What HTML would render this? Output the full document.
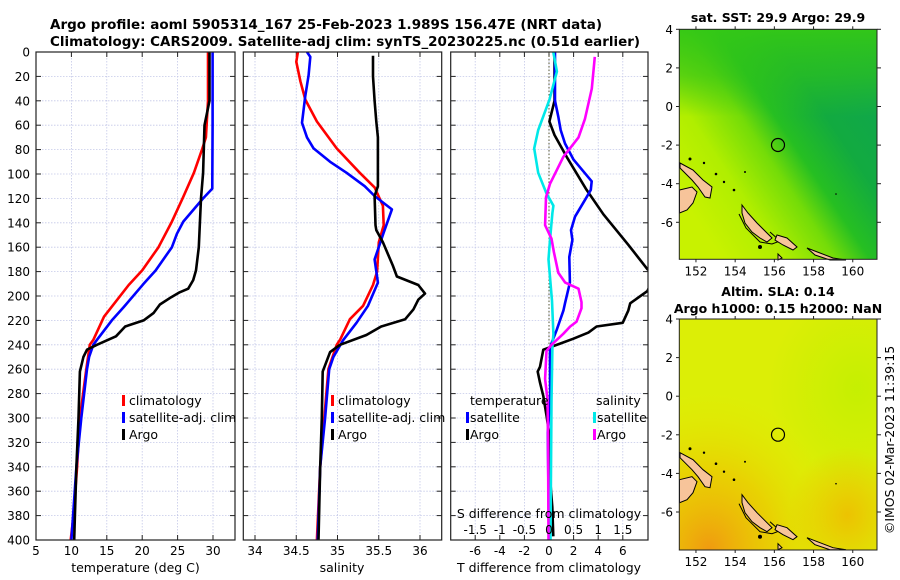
<!DOCTYPE html>
<html><head><meta charset="utf-8"><style>
html,body{margin:0;padding:0;background:#fff;}
svg{display:block;font-family:"DejaVu Sans","Liberation Sans",sans-serif;}
</style></head><body>
<svg id="fig" width="900" height="580" viewBox="0 0 900 580" xmlns="http://www.w3.org/2000/svg">
<defs>
<linearGradient id="sstGrad" x1="1" y1="0.15" x2="0.1" y2="0.85">
<stop offset="0" stop-color="#0fa650"/>
<stop offset="0.3" stop-color="#12aa40"/>
<stop offset="0.48" stop-color="#26bf22"/>
<stop offset="0.6" stop-color="#74dc08"/>
<stop offset="0.78" stop-color="#b0ee00"/>
<stop offset="1" stop-color="#c8f200"/>
</linearGradient>
<linearGradient id="sstTop" x1="0" y1="0" x2="0" y2="1">
<stop offset="0" stop-color="#34c816" stop-opacity="0.95"/>
<stop offset="0.2" stop-color="#30c418" stop-opacity="0.6"/>
<stop offset="0.38" stop-color="#30c418" stop-opacity="0"/>
</linearGradient>
<radialGradient id="slaOrange" cx="0.15" cy="1" r="0.7">
<stop offset="0" stop-color="#f09a10" stop-opacity="1"/>
<stop offset="0.5" stop-color="#f0c000" stop-opacity="0.6"/>
<stop offset="1" stop-color="#e8e800" stop-opacity="0"/>
</radialGradient>
<radialGradient id="slaGreen" cx="0.9" cy="0.3" r="0.45">
<stop offset="0" stop-color="#bcf000" stop-opacity="0.7"/>
<stop offset="1" stop-color="#bcf000" stop-opacity="0"/>
</radialGradient>
<radialGradient id="slaOrange2" cx="0.85" cy="0.85" r="0.3">
<stop offset="0" stop-color="#f0b800" stop-opacity="0.8"/>
<stop offset="1" stop-color="#f0b800" stop-opacity="0"/>
</radialGradient>
<g id="islands">
<path d="M680,163 L693,170 L703,180 L712,187 L710,198 L705,197 L698,187 L692,180 L680,168 Z" fill="#f7c49a" stroke="#000" stroke-width="1"/>
<path d="M679.5,190 L692,187 L697,192 L693,203 L687,210 L679.5,213 Z" fill="#f7c49a" stroke="#000" stroke-width="1"/>
<path d="M742,205 L748,213 L757,223 L767,233 L772,238 L767,242 L760,238 L752,232 L745,223 L742,213 Z" fill="#f7c49a" stroke="#000" stroke-width="1"/>
<path d="M739,214 L746,228 L760,242 L772,244 L780,241 L770,232" fill="none" stroke="#000" stroke-width="1"/>
<path d="M777,235 L787,238 L797,247 L793,250 L783,245 L775,240 Z" fill="#f7c49a" stroke="#000" stroke-width="1"/>
<path d="M807,248 L820,253 L833,258 L846,260 L830,260 L815,255 Z" fill="#f7c49a" stroke="#000" stroke-width="1"/>
<path d="M778,254 L782,258 L778,260 Z" fill="#f7c49a" stroke="#000" stroke-width="1"/>
<circle cx="690" cy="159" r="1.5" fill="#000"/><circle cx="704" cy="163" r="1.2" fill="#000"/>
<circle cx="716" cy="174" r="1.3" fill="#000"/><circle cx="724" cy="182" r="1.2" fill="#000"/>
<circle cx="734" cy="190" r="1.3" fill="#000"/><circle cx="745" cy="172" r="1" fill="#000"/>
<circle cx="760" cy="247" r="2" fill="#000"/><circle cx="836" cy="194" r="0.8" fill="#000"/>
</g>
</defs>

<!-- Titles -->
<text x="50" y="29" font-size="13" font-weight="bold" textLength="552" lengthAdjust="spacingAndGlyphs">Argo profile: aoml 5905314_167 25-Feb-2023 1.989S 156.47E (NRT data)</text>
<text x="50" y="46" font-size="13" font-weight="bold" textLength="590" lengthAdjust="spacingAndGlyphs">Climatology: CARS2009. Satellite-adj clim: synTS_20230225.nc (0.51d earlier)</text>

<g id="panels"></g>

<!-- Map 1: SST -->
<g>
<text x="778" y="22" font-size="12.5" font-weight="bold" text-anchor="middle">sat. SST: 29.9 Argo: 29.9</text>
<rect x="679.3" y="29.3" width="197.7" height="230" fill="url(#sstGrad)"/>
<rect x="679.3" y="29.3" width="197.7" height="230" fill="url(#sstTop)"/>
<use href="#islands"/>
<circle cx="778" cy="145" r="6.5" fill="none" stroke="#000" stroke-width="1.2"/>
<rect x="679.3" y="29.3" width="197.7" height="230" fill="none" stroke="#222" stroke-width="1"/>
<g id="map1ticks"></g>
</g>

<!-- Map 2: SLA -->
<g>
<text x="778" y="296" font-size="12.5" font-weight="bold" text-anchor="middle">Altim. SLA: 0.14</text>
<text x="778" y="313" font-size="12.5" font-weight="bold" text-anchor="middle">Argo h1000: 0.15 h2000: NaN</text>
<rect x="679.3" y="319" width="197.7" height="231" fill="#dcee06"/>
<rect x="679.3" y="319" width="197.7" height="231" fill="url(#slaGreen)"/>
<rect x="679.3" y="319" width="197.7" height="231" fill="url(#slaOrange)"/>
<rect x="679.3" y="319" width="197.7" height="231" fill="url(#slaOrange2)"/>
<use href="#islands" transform="translate(0,289.7)"/>
<circle cx="778" cy="434.7" r="6.5" fill="none" stroke="#000" stroke-width="1.2"/>
<rect x="679.3" y="319" width="197.7" height="231" fill="none" stroke="#222" stroke-width="1"/>
<g id="map2ticks"></g>
</g>

<text transform="translate(894,440) rotate(-90)" font-size="12.5" text-anchor="middle">©IMOS 02-Mar-2023 11:39:15</text>

<script>
// ---- Data ----
const depthTicks = [0,20,40,60,80,100,120,140,160,180,200,220,240,260,280,300,320,340,360,380,400];
const tempTicks = [5,10,15,20,25,30];
const salTicks = [34,34.5,35,35.5,36];
const salTickLabels = ["34","34.5","35","35.5","36"];
const tdiffTicks = [-6,-4,-2,0,2,4,6];
const sdiffTicks = [-1.5,-1,-0.5,0,0.5,1,1.5];
const sdiffTickLabels = ["-1.5","-1","-0.5","0","0.5","1","1.5"];
const lonTicks = [152,154,156,158,160];
const latTicks = [4,2,0,-2,-4,-6];

const tClimDepth = [0,40,70,79,99,120,139,160,179,191,217,236,240,260,300,340,380,400];
const tClimVal   = [29.3,29.3,29.0,28.5,27.3,25.7,24.2,22.3,20.0,18.1,14.6,13.1,12.6,12.1,11.2,10.8,10.3,9.9];
const tSatDepth = [0,60,107,112,120,139,149,160,179,190,209,220,236,240,250,260,300,340,400];
const tSatVal   = [29.95,29.95,29.9,29.9,28.6,25.8,24.9,24.2,21.9,20.2,17.4,15.7,13.6,13.1,12.5,12.2,11.4,10.7,10.0];
const tArgoDepth = [0,40,60,99,120,160,179,187,194,197,201,207,214,220,225,233,240,244,250,262,300,340,380,400];
const tArgoVal   = [29.5,29.5,28.8,28.6,28.3,28.0,27.6,27.2,26.5,25.3,24.1,22.5,21.6,20.2,17.6,16.3,13.6,12.2,11.7,11.2,11.0,10.7,10.5,10.4];

const sClimDepth = [0,8,24,39,57,79,99,111,126,142,156,180,191,208,219,236,240,260,300,340,400];
const sClimVal   = [34.52,34.50,34.55,34.61,34.75,34.99,35.27,35.45,35.55,35.56,35.50,35.48,35.43,35.31,35.15,35.03,34.99,34.89,34.84,34.79,34.75];
const sSatDepth = [0,4,19,36,58,70,79,90,99,110,118,129,148,170,189,208,222,236,250,260,300,340,400];
const sSatVal   = [34.63,34.67,34.65,34.61,34.57,34.63,34.71,34.91,35.11,35.33,35.45,35.66,35.56,35.45,35.49,35.37,35.23,35.07,34.95,34.90,34.85,34.79,34.76];
const sArgoDepth = [3,20,40,57,70,110,118,142,146,156,175,184,191,198,203,211,219,225,232,240,246,262,300,340,400];
const sArgoVal   = [35.43,35.43,35.45,35.47,35.49,35.49,35.45,35.46,35.47,35.55,35.67,35.72,35.98,36.06,35.98,35.92,35.82,35.53,35.35,35.03,34.91,34.82,34.81,34.79,34.77];

const dtSatDepth = [0,40,53,64,75,88,106,113,119,135,146,154,168,189,206,212,228,242,258,285,312,400];
const dtSatVal   = [0.49,0.49,0.76,0.95,1.3,1.98,3.47,3.4,3.06,2.11,1.79,1.9,1.65,1.7,1.3,1.17,0.62,0.08,0.08,0.1,-0.1,0.0];
const dtArgoDepth = [0,40,57,68,86,113,133,158,178,183,196,206,212,222,225,230,235,239,244,258,262,271,282,299,312,356,373,397];
const dtArgoVal   = [0.45,0.45,0.03,0.45,1.44,3.06,4.42,6.45,8.0,8.6,8.0,6.6,6.45,5.99,3.87,3.2,1.98,0.9,-0.46,-0.73,-0.92,-0.73,-0.46,-0.19,0.0,0.14,0.27,0.35];
const dsSatDepth = [0,16,39,64,79,99,116,126,132,154,170,204,231,242,285,400];
const dsSatVal   = [0.088,0.16,0.01,-0.22,-0.30,-0.22,-0.05,0.09,0.07,0.02,-0.01,0.06,0.09,0.07,0.05,0.03];
const dsArgoDepth = [4,30,55,70,86,108,119,142,153,164,181,189,194,205,210,221,225,231,240,245,268,285,312,400];
const dsArgoVal   = [0.93,0.87,0.73,0.6,0.29,0.02,-0.06,-0.08,0.05,0.1,0.19,0.33,0.6,0.66,0.66,0.56,0.43,0.29,0.05,-0.05,-0.08,-0.03,-0.02,-0.01];

// ---- Axes ----
const NS = "http://www.w3.org/2000/svg";
const Y0 = 52, Y1 = 540;
function yOf(d){ return Y0 + d*(Y1-Y0)/400; }
const P = [
  {x0:36, x1:235, xf:v=>36+(v-5)*7.08},
  {x0:243.3, x1:441.7, xf:v=>255+(v-34)*82.5},
  {x0:450.7, x1:648, xf:v=>549+v*12.3}
];
function sx(v){ return 549 + v*49.2; }
const root = document.getElementById('panels');
function mk(tag, attrs, parent){
  const e = document.createElementNS(NS, tag);
  for (const k in attrs) e.setAttribute(k, attrs[k]);
  (parent||root).appendChild(e);
  return e;
}
function clip(id,p){
  const c = mk('clipPath',{id:id});
  mk('rect',{x:p.x0,y:Y0,width:p.x1-p.x0,height:Y1-Y0},c);
}
P.forEach((p,i)=>clip('clip'+i,p));

function panelFrame(p, xTicks, idx){
  depthTicks.forEach(d=>{
    const y=yOf(d);
    const g=mk('line',{x1:p.x0,x2:p.x1,y1:y,y2:y,stroke:'#c4c8e8','stroke-width':0.8,'stroke-dasharray':'1.5,1.5'});
    
    
    mk('line',{x1:p.x0,x2:p.x0+5,y1:y,y2:y,stroke:'#222','stroke-width':1});
    mk('line',{x1:p.x1-5,x2:p.x1,y1:y,y2:y,stroke:'#222','stroke-width':1});
  });
  xTicks.forEach(v=>{
    const x=p.xf(v);
    const g=mk('line',{x1:x,x2:x,y1:Y0,y2:Y1,stroke:'#c4c8e8','stroke-width':0.8,'stroke-dasharray':'1.5,1.5'});
    
    
    mk('line',{x1:x,x2:x,y1:Y0,y2:Y0+5,stroke:'#222','stroke-width':1});
    mk('line',{x1:x,x2:x,y1:Y1-5,y2:Y1,stroke:'#222','stroke-width':1});
  });
}
function frameRect(p){
  const r=mk('rect',{x:p.x0,y:Y0,width:p.x1-p.x0,height:Y1-Y0,fill:'none',stroke:'#222','stroke-width':1.2});
  
  
}
function line(p, idx, depths, vals, color, xf, name){
  let d='';
  depths.forEach((dd,i)=>{ d += (i?'L':'M') + xf(vals[i]).toFixed(1) + ',' + yOf(dd).toFixed(1); });
  const e=mk('path',{d:d,fill:'none',stroke:color,'stroke-width':2.6,'stroke-linejoin':'round','clip-path':'url(#clip'+idx+')'});
  
  
}
function txt(x,y,s,size,anchor,name){
  const e=mk('text',{x:x,y:y,'font-size':size,'text-anchor':anchor||'start'});
  e.textContent=s;
  
  
  return e;
}
function legMark(x,y,color){
  const e=mk('rect',{x:x,y:y-10,width:3,height:11,fill:color});
  
  
}

// panel 1
panelFrame(P[0], tempTicks, 0);
line(P[0],0,tClimDepth,tClimVal,'#ff0000',P[0].xf,'temp-climatology-line');
line(P[0],0,tSatDepth,tSatVal,'#0000ff',P[0].xf,'temp-satellite-line');
line(P[0],0,tArgoDepth,tArgoVal,'#000000',P[0].xf,'temp-argo-line');
frameRect(P[0]);
depthTicks.forEach(d=>txt(30,yOf(d)+4.5,String(d),12,'end','depth-tick-label'));
tempTicks.forEach(v=>txt(P[0].xf(v),555,String(v),12,'middle','temp-tick-label'));
txt(135.5,572,'temperature (deg C)',12.5,'middle','temp-axis-title');
legMark(122,405,'#ff0000'); txt(129,405,'climatology',12.5,'start','legend-climatology');
legMark(122,422,'#0000ff'); txt(129,422,'satellite-adj. clim',12.5,'start','legend-satellite-adj');
legMark(122,439,'#000000'); txt(129,439,'Argo',12.5,'start','legend-argo');

// panel 2
panelFrame(P[1], salTicks, 1);
line(P[1],1,sClimDepth,sClimVal,'#ff0000',P[1].xf,'sal-climatology-line');
line(P[1],1,sSatDepth,sSatVal,'#0000ff',P[1].xf,'sal-satellite-line');
line(P[1],1,sArgoDepth,sArgoVal,'#000000',P[1].xf,'sal-argo-line');
frameRect(P[1]);
salTicks.forEach((v,i)=>txt(P[1].xf(v),555,salTickLabels[i],12,'middle','sal-tick-label'));
txt(342,572,'salinity',12.5,'middle','sal-axis-title');
legMark(331,405,'#ff0000'); txt(338,405,'climatology',12.5,'start','legend-climatology');
legMark(331,422,'#0000ff'); txt(338,422,'satellite-adj. clim',12.5,'start','legend-satellite-adj');
legMark(331,439,'#000000'); txt(338,439,'Argo',12.5,'start','legend-argo');

// panel 3
panelFrame(P[2], tdiffTicks, 2);
const z=mk('line',{x1:549,x2:549,y1:Y0,y2:Y1,stroke:'#555533','stroke-width':1,'stroke-dasharray':'1.5,2'});


line(P[2],2,dtArgoDepth,dtArgoVal,'#000000',P[2].xf,'tdiff-argo-line');
line(P[2],2,dtSatDepth,dtSatVal,'#0000ff',P[2].xf,'tdiff-satellite-line');
line(P[2],2,dsSatDepth,dsSatVal,'#00e8e8',sx,'sdiff-satellite-line');
line(P[2],2,dsArgoDepth,dsArgoVal,'#ff00ff',sx,'sdiff-argo-line');
frameRect(P[2]);
tdiffTicks.forEach(v=>txt(P[2].xf(v),555,String(v),12,'middle','tdiff-tick-label'));
sdiffTicks.forEach((v,i)=>txt(sx(v),534,sdiffTickLabels[i],12,'middle','sdiff-tick-label'));
txt(549,518,'S difference from climatology',12.5,'middle','sdiff-axis-title');
txt(549,572,'T difference from climatology',12.5,'middle','tdiff-axis-title');
txt(470,405,'temperature',12.5,'start','legend-temperature-heading');
txt(596,405,'salinity',12.5,'start','legend-salinity-heading');
legMark(466,422,'#0000ff'); txt(470,422,'satellite',12.5,'start','legend-temp-satellite');
legMark(466,439,'#000000'); txt(470,439,'Argo',12.5,'start','legend-temp-argo');
legMark(593,422,'#00e8e8'); txt(597,422,'satellite',12.5,'start','legend-sal-satellite');
legMark(593,439,'#ff00ff'); txt(597,439,'Argo',12.5,'start','legend-sal-argo');

// map ticks
function mapTicks(gid, top){
  const g=document.getElementById(gid);
  const lonX = v=>679.3+(v-151.15)*19.6;
  const latY = v=>top+(4-v)*19.3;
  const bottom = top + (gid==='map1ticks'?230:231);
  lonTicks.forEach(v=>{
    const x=lonX(v);
    mk('line',{x1:x,x2:x,y1:bottom,y2:bottom+3,stroke:'#222'},g);
    mk('line',{x1:x,x2:x,y1:top-3,y2:top,stroke:'#222'},g);
    const t=mk('text',{x:x,y:bottom+16,'font-size':12,'text-anchor':'middle'},g);
    t.textContent=String(v);
    
    
  });
  latTicks.forEach(v=>{
    const y=latY(v);
    mk('line',{x1:676,x2:679.3,y1:y,y2:y,stroke:'#222'},g);
    mk('line',{x1:877,x2:881,y1:y,y2:y,stroke:'#222'},g);
    const t=mk('text',{x:673,y:y+4.5,'font-size':12,'text-anchor':'end'},g);
    t.textContent=String(v);
    
    
  });
}
mapTicks('map1ticks',29.3);
mapTicks('map2ticks',319);
</script>
</svg>
</body></html>
